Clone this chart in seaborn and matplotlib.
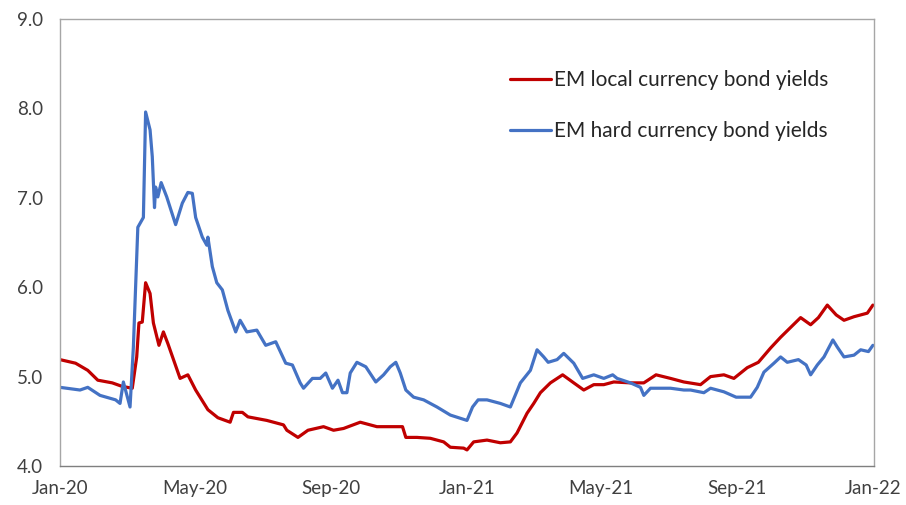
import pandas as pd
import matplotlib
matplotlib.use("Agg")
import matplotlib.pyplot as plt
import matplotlib.dates as mdates
import seaborn as sns

# EM bond yields (%)
local_dates = [
    "2020-01-01", "2020-01-15", "2020-01-26", "2020-02-04", "2020-02-17", "2020-02-26",
    "2020-03-06", "2020-03-10", "2020-03-12", "2020-03-15", "2020-03-18", "2020-03-22",
    "2020-03-25", "2020-03-30", "2020-04-03", "2020-04-07", "2020-04-18", "2020-04-25",
    "2020-05-02", "2020-05-13", "2020-05-22", "2020-06-02", "2020-06-05", "2020-06-13",
    "2020-06-18", "2020-07-05", "2020-07-20", "2020-07-23", "2020-08-02", "2020-08-11",
    "2020-08-25", "2020-09-03", "2020-09-12", "2020-09-27", "2020-10-12", "2020-10-27",
    "2020-11-04", "2020-11-07", "2020-11-17", "2020-11-29", "2020-12-11", "2020-12-17",
    "2020-12-29", "2021-01-01", "2021-01-07", "2021-01-19", "2021-01-31", "2021-02-09",
    "2021-02-15", "2021-02-24", "2021-03-02", "2021-03-08", "2021-03-17", "2021-03-28",
    "2021-04-07", "2021-04-16", "2021-04-25", "2021-05-04", "2021-05-13", "2021-05-28",
    "2021-06-09", "2021-06-20", "2021-07-03", "2021-07-15", "2021-07-30", "2021-08-08",
    "2021-08-20", "2021-08-29", "2021-09-10", "2021-09-20", "2021-10-01", "2021-10-10",
    "2021-10-19", "2021-10-28", "2021-11-06", "2021-11-13", "2021-11-21", "2021-11-29",
    "2021-12-06", "2021-12-15", "2021-12-27", "2022-01-01",
]
local_yields = [
    5.19, 5.15, 5.07, 4.96, 4.93, 4.89,
    4.87, 5.22, 5.60, 5.61, 6.05, 5.93,
    5.60, 5.35, 5.50, 5.37, 4.98, 5.02,
    4.85, 4.63, 4.54, 4.49, 4.60, 4.60,
    4.55, 4.51, 4.46, 4.40, 4.32, 4.40,
    4.44, 4.40, 4.42, 4.49, 4.44, 4.44,
    4.44, 4.32, 4.32, 4.31, 4.27, 4.21,
    4.20, 4.18, 4.27, 4.29, 4.26, 4.27,
    4.37, 4.59, 4.70, 4.82, 4.93, 5.02,
    4.93, 4.85, 4.91, 4.91, 4.94, 4.93,
    4.93, 5.02, 4.98, 4.94, 4.91, 5.00,
    5.02, 4.98, 5.10, 5.16, 5.32, 5.44,
    5.55, 5.66, 5.58, 5.66, 5.80, 5.69,
    5.63, 5.67, 5.71, 5.80,
]

hard_dates = [
    "2020-01-01", "2020-01-19", "2020-01-26", "2020-02-06", "2020-02-20", "2020-02-24",
    "2020-02-27", "2020-03-04", "2020-03-07", "2020-03-11", "2020-03-16", "2020-03-18",
    "2020-03-22", "2020-03-24", "2020-03-26", "2020-03-27", "2020-03-29", "2020-04-01",
    "2020-04-06", "2020-04-14", "2020-04-20", "2020-04-25", "2020-04-29", "2020-05-02",
    "2020-05-08", "2020-05-12", "2020-05-13", "2020-05-17", "2020-05-21", "2020-05-26",
    "2020-05-31", "2020-06-07", "2020-06-11", "2020-06-17", "2020-06-26", "2020-07-04",
    "2020-07-13", "2020-07-22", "2020-07-28", "2020-08-04", "2020-08-07", "2020-08-15",
    "2020-08-22", "2020-08-27", "2020-09-02", "2020-09-07", "2020-09-11", "2020-09-15",
    "2020-09-18", "2020-09-24", "2020-10-02", "2020-10-11", "2020-10-18", "2020-10-24",
    "2020-10-29", "2020-11-02", "2020-11-07", "2020-11-14", "2020-11-23", "2020-12-05",
    "2020-12-17", "2021-01-01", "2021-01-06", "2021-01-11", "2021-01-19", "2021-01-31",
    "2021-02-09", "2021-02-18", "2021-02-27", "2021-03-05", "2021-03-11", "2021-03-15",
    "2021-03-23", "2021-03-29", "2021-04-07", "2021-04-15", "2021-04-25", "2021-05-04",
    "2021-05-12", "2021-05-16", "2021-05-28", "2021-06-06", "2021-06-09", "2021-06-15",
    "2021-07-03", "2021-07-15", "2021-07-21", "2021-08-02", "2021-08-08", "2021-08-20",
    "2021-08-31", "2021-09-13", "2021-09-19", "2021-09-25", "2021-10-04", "2021-10-10",
    "2021-10-16", "2021-10-26", "2021-11-02", "2021-11-06", "2021-11-12", "2021-11-18",
    "2021-11-26", "2021-11-30", "2021-12-06", "2021-12-15", "2021-12-21", "2021-12-28",
    "2022-01-01",
]
hard_yields = [
    4.88, 4.85, 4.88, 4.79, 4.74, 4.70,
    4.94, 4.66, 5.33, 6.67, 6.78, 7.96,
    7.76, 7.46, 6.89, 7.12, 7.01, 7.17,
    7.01, 6.70, 6.94, 7.06, 7.05, 6.78,
    6.56, 6.47, 6.56, 6.23, 6.05, 5.97,
    5.74, 5.50, 5.63, 5.50, 5.52, 5.35,
    5.39, 5.15, 5.13, 4.93, 4.87, 4.98,
    4.98, 5.04, 4.87, 4.96, 4.82, 4.82,
    5.04, 5.16, 5.11, 4.94, 5.02, 5.11,
    5.16, 5.04, 4.85, 4.77, 4.74, 4.66,
    4.57, 4.51, 4.66, 4.74, 4.74, 4.70,
    4.66, 4.93, 5.07, 5.30, 5.22, 5.16,
    5.19, 5.26, 5.15, 4.98, 5.02, 4.98,
    5.02, 4.98, 4.93, 4.88, 4.79, 4.87,
    4.87, 4.85, 4.85, 4.82, 4.87, 4.83,
    4.77, 4.77, 4.88, 5.05, 5.15, 5.22,
    5.16, 5.19, 5.13, 5.02, 5.13, 5.22,
    5.41, 5.33, 5.22, 5.24, 5.30, 5.28,
    5.35,
]

series_names = ["EM local currency bond yields", "EM hard currency bond yields"]
series_colors = ["#C00000", "#4472C4"]


def build_frame():
    local = pd.DataFrame({"date": pd.to_datetime(local_dates), "yield": local_yields,
                          "series": series_names[0]})
    hard = pd.DataFrame({"date": pd.to_datetime(hard_dates), "yield": hard_yields,
                         "series": series_names[1]})
    return pd.concat([local, hard], ignore_index=True)


df = build_frame()

sns.set_theme(style="white")
plt.rcParams["font.family"] = ["Lato", "DejaVu Sans"]

fig = plt.figure(figsize=(9.06, 5.05), dpi=100)
ax = fig.add_axes([0.0662, 0.0772, 0.8985, 0.8852])

sns.lineplot(data=df, x="date", y="yield", hue="series", hue_order=series_names,
             palette=series_colors, linewidth=2.3, ax=ax)

ax.set_xlim(pd.Timestamp("2020-01-01"), pd.Timestamp("2022-01-02"))
ax.set_ylim(4.0, 9.0)
ax.set_yticks([4.0, 5.0, 6.0, 7.0, 8.0, 9.0])
ax.yaxis.set_major_formatter(matplotlib.ticker.FormatStrFormatter("%.1f"))
ax.xaxis.set_major_locator(mdates.MonthLocator(bymonth=[1, 5, 9]))
ax.xaxis.set_major_formatter(mdates.DateFormatter("%b-%y"))
ax.set_xlabel("")
ax.set_ylabel("")

for side in ["left", "right", "top", "bottom"]:
    ax.spines[side].set_visible(True)
    ax.spines[side].set_color("#A6A6A6")
    ax.spines[side].set_linewidth(1.0)
ax.spines["bottom"].set_color("#7F7F7F")

ax.tick_params(axis="x", direction="in", length=5, width=1, color="#7F7F7F",
               labelsize=13.5, labelcolor="#404040", pad=10)
ax.tick_params(axis="y", length=0, labelsize=13.5, labelcolor="#404040", pad=12)

leg = ax.legend(loc="upper left", bbox_to_anchor=(0.553, 0.886), frameon=False,
                fontsize=15, handlelength=1.95, handletextpad=0.15,
                labelspacing=1.5, borderaxespad=0, borderpad=0)
for t in leg.get_texts():
    t.set_color("#262626")

fig.savefig("out.png", dpi=100)
